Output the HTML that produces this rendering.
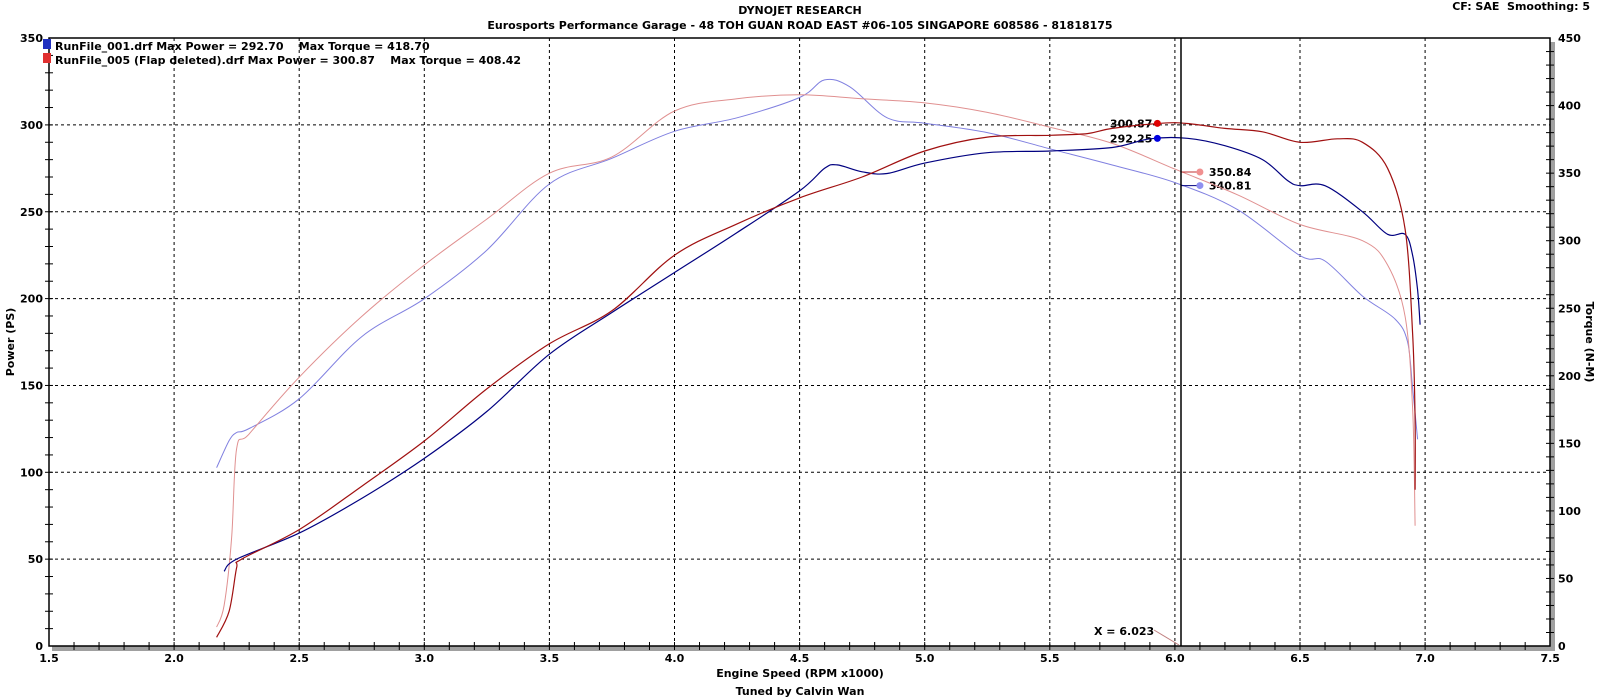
<!DOCTYPE html>
<html><head><meta charset="utf-8"><style>
html,body{margin:0;padding:0;background:#fff;}
svg{display:block;font-family:"DejaVu Sans","Liberation Sans",sans-serif;font-weight:bold;font-size:11px;}
text{white-space:pre;}
</style></head><body>
<svg id="s" width="1600" height="699" xmlns="http://www.w3.org/2000/svg" xml:space="preserve">
<text x="800" y="14" text-anchor="middle">DYNOJET RESEARCH</text>
<text x="800" y="29" text-anchor="middle">Eurosports Performance Garage - 48 TOH GUAN ROAD EAST #06-105 SINGAPORE 608586 - 81818175</text>
<text x="1590" y="10" text-anchor="end">CF: SAE  Smoothing: 5</text>
<rect x="52" y="646" width="1502" height="5" fill="#a0a0a0"/>
<rect x="1550" y="42" width="5" height="609" fill="#a0a0a0"/>
<g id="grid" stroke="#000" stroke-dasharray="3,3" stroke-width="1"></g>
<rect x="49" y="38" width="1501" height="608" fill="none" stroke="#000" stroke-width="1.5"/>
<g id="ticks" stroke="#000" stroke-width="1"></g>
<g id="labels"></g>
<g id="curves" fill="none"></g>
<line x1="1181" y1="38" x2="1181" y2="646" stroke="#000" stroke-width="1.5"/>
<line x1="1154" y1="630" x2="1179" y2="645" stroke="#c08080" stroke-width="1"/>
<text x="1094" y="635">X = 6.023</text>
<rect x="43" y="39" width="8" height="10" fill="#2030c0"/>
<rect x="43" y="53" width="8" height="10" fill="#e03030"/>
<text x="55" y="50">RunFile_001.drf Max Power = 292.70    Max Torque = 418.70</text>
<text x="55" y="64">RunFile_005 (Flap deleted).drf Max Power = 300.87    Max Torque = 408.42</text>
<text x="14" y="342" text-anchor="middle" transform="rotate(-90 14 342)">Power (PS)</text>
<text x="1586" y="342" text-anchor="middle" transform="rotate(90 1586 342)">Torque (N-M)</text>
<text x="800" y="677" text-anchor="middle">Engine Speed (RPM x1000)</text>
<text x="800" y="695" text-anchor="middle">Tuned by Calvin Wan</text>
</svg>
<script>
var NS="http://www.w3.org/2000/svg";
function X(r){return 49+(r-1.5)*250.2;}
function YP(p){return 646-p*1.737;}
function YT(t){return 646-t*1.351;}
function el(p,t,a,txt){var e=document.createElementNS(NS,t);for(var k in a)e.setAttribute(k,a[k]);if(txt!==undefined)e.textContent=txt;p.appendChild(e);return e;}
var g=document.getElementById('grid'),tk=document.getElementById('ticks'),lb=document.getElementById('labels');
for(var r=2;r<7.5;r+=0.5)el(g,'line',{x1:X(r),y1:38,x2:X(r),y2:646});
for(var p=50;p<350;p+=50)el(g,'line',{x1:49,y1:YP(p),x2:1550,y2:YP(p)});
for(var i=1;i<60;i++){var x=X(1.5+i*0.1);el(tk,'line',{x1:x,y1:642,x2:x,y2:650});}
for(var i=1;i<35;i++){var y=YP(i*10);el(tk,'line',{x1:45,y1:y,x2:53,y2:y});}
for(var i=1;i<45;i++){var y=YT(i*10);el(tk,'line',{x1:1546,y1:y,x2:1554,y2:y});}
for(var i=0;i<=12;i++){var r=1.5+i*0.5;el(lb,'text',{x:X(r),y:662,'text-anchor':'middle'},r.toFixed(1));}
for(var p=0;p<=350;p+=50)el(lb,'text',{x:43,y:YP(p)+4,'text-anchor':'end'},p);
for(var t=0;t<=450;t+=50)el(lb,'text',{x:1558,y:YT(t)+4},t);
function path(pts,yf,col,w){
 var P=pts.map(function(a){return [X(a[0]),yf(a[1])];});
 var d='M'+P[0][0].toFixed(1)+','+P[0][1].toFixed(1);
 for(var i=0;i<P.length-1;i++){
  var p0=P[Math.max(i-1,0)],p1=P[i],p2=P[i+1],p3=P[Math.min(i+2,P.length-1)];
  var c1=[p1[0]+(p2[0]-p0[0])/6,p1[1]+(p2[1]-p0[1])/6],c2=[p2[0]-(p3[0]-p1[0])/6,p2[1]-(p3[1]-p1[1])/6];
  d+='C'+c1[0].toFixed(1)+','+c1[1].toFixed(1)+' '+c2[0].toFixed(1)+','+c2[1].toFixed(1)+' '+p2[0].toFixed(1)+','+p2[1].toFixed(1);
 }
 el(document.getElementById('curves'),'path',{d:d,stroke:col,'stroke-width':w});
}
path([[2.17,132],[2.22,152],[2.25,158],[2.3,161],[2.5,183],[2.75,229],[3.0,257],[3.25,293],[3.5,342],[3.75,361],[4.0,381],[4.25,391],[4.5,406],[4.6,419],[4.7,414],[4.85,391],[5.0,387],[5.25,380],[5.5,368],[5.75,356],[6.0,343],[6.25,323],[6.5,289],[6.6,285],[6.75,259],[6.88,242],[6.93,225],[6.95,191],[6.97,153]],YT,'#8080e0',1);
path([[2.17,14],[2.2,30],[2.23,80],[2.25,146],[2.3,157],[2.5,199],[2.75,244],[3.0,282],[3.25,316],[3.5,350],[3.75,362],[4.0,396],[4.25,405],[4.5,408],[4.75,405],[5.0,402],[5.25,395],[5.5,384],[5.75,372],[6.0,353],[6.25,334],[6.5,312],[6.75,300],[6.85,282],[6.92,244],[6.95,176],[6.96,89]],YT,'#e09090',1);
path([[2.2,43],[2.25,50],[2.5,65],[2.75,85],[3.0,108],[3.25,135],[3.5,168],[3.75,192],[4.0,215],[4.25,238],[4.5,262],[4.6,275],[4.65,277],[4.75,273],[4.85,272],[5.0,278],[5.25,284],[5.5,285],[5.75,287],[5.9,292],[6.05,292.3],[6.2,288],[6.35,280],[6.45,268],[6.5,265],[6.6,265],[6.75,250],[6.85,237],[6.92,237],[6.95,225],[6.97,205],[6.98,185]],YP,'#000080',1.2);
path([[2.17,5],[2.22,20],[2.25,45],[2.27,50],[2.5,67],[2.75,92],[3.0,118],[3.25,148],[3.5,174],[3.75,193],[4.0,225],[4.25,243],[4.5,258],[4.75,270],[5.0,285],[5.25,293],[5.5,294],[5.65,295],[5.75,298],[5.95,301],[6.05,300.8],[6.2,298],[6.35,296],[6.5,290],[6.65,292],[6.75,290],[6.85,275],[6.92,240],[6.95,180],[6.96,130],[6.96,90]],YP,'#a01010',1.2);
var c=document.getElementById('curves');
el(c,'circle',{cx:X(5.93),cy:YP(300.87),r:3.5,fill:'#e00000'});
el(c,'circle',{cx:X(5.93),cy:YP(292.25),r:3.5,fill:'#0000e0'});
el(c,'line',{x1:X(6.023),y1:YT(350.84),x2:X(6.1),y2:YT(350.84),stroke:'#c03030'});
el(c,'line',{x1:X(6.023),y1:YT(340.81),x2:X(6.1),y2:YT(340.81),stroke:'#000080'});
el(c,'circle',{cx:X(6.1),cy:YT(350.84),r:3.5,fill:'#f09090'});
el(c,'circle',{cx:X(6.1),cy:YT(340.81),r:3.5,fill:'#9090f0'});
el(lb,'text',{x:X(5.93)-5,y:YP(300.87)+4,'text-anchor':'end'},'300.87');
el(lb,'text',{x:X(5.93)-5,y:YP(292.25)+4,'text-anchor':'end'},'292.25');
el(lb,'text',{x:X(6.1)+9,y:YT(350.84)+4},'350.84');
el(lb,'text',{x:X(6.1)+9,y:YT(340.81)+4},'340.81');
</script>
</body></html>
